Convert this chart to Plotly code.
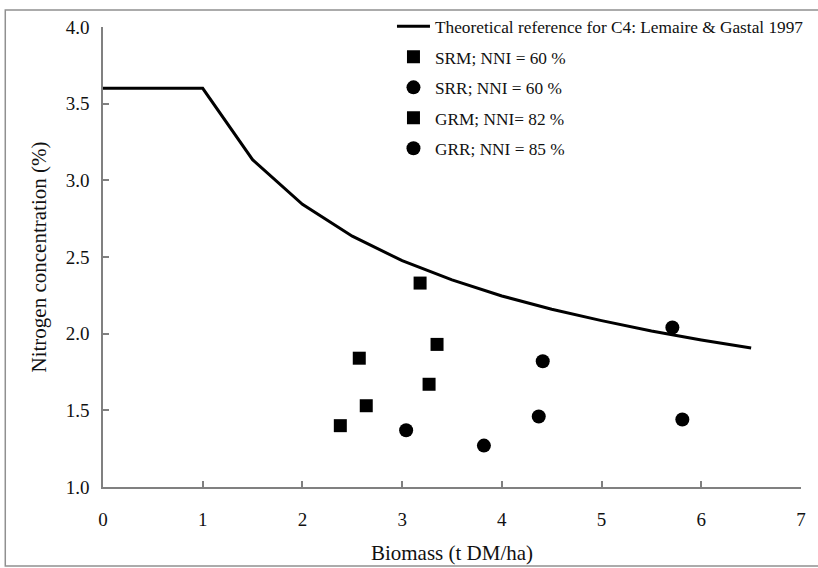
import plotly.graph_objects as go

# Reference curve
ref_x = [0, 1, 1.5, 2, 2.5, 3, 3.5, 4, 4.5, 5, 5.5, 6, 6.5]
ref_y = [3.6, 3.6, 3.135, 2.844, 2.636, 2.476, 2.351, 2.246, 2.159, 2.085, 2.018, 1.959, 1.906]

srm_x = [2.38, 2.64, 3.27]
srm_y = [1.40, 1.53, 1.67]
srr_x = [3.04, 3.82, 4.37]
srr_y = [1.37, 1.27, 1.46]
grm_x = [2.57, 3.18, 3.35]
grm_y = [1.84, 2.33, 1.93]
grr_x = [4.41, 5.71, 5.81]
grr_y = [1.82, 2.04, 1.44]

x_ticks = [0, 1, 2, 3, 4, 5, 6, 7]
y_ticks = [1.0, 1.5, 2.0, 2.5, 3.0, 3.5, 4.0]

FONT = "Liberation Serif, Times New Roman, serif"

fig = go.Figure()
fig.add_trace(go.Scatter(x=ref_x, y=ref_y, mode="lines", line=dict(color="black", width=3),
                         name="Theoretical reference for C4: Lemaire & Gastal 1997", legendgroup="a"))
msize = 13
fig.add_trace(go.Scatter(x=srm_x, y=srm_y, mode="markers", marker=dict(symbol="square", size=msize, color="black"),
                         name="SRM; NNI = 60 %", legendgroup="b"))
fig.add_trace(go.Scatter(x=srr_x, y=srr_y, mode="markers", marker=dict(symbol="circle", size=msize + 1, color="black"),
                         name="SRR; NNI = 60 %", legendgroup="c"))
fig.add_trace(go.Scatter(x=grm_x, y=grm_y, mode="markers", marker=dict(symbol="square", size=msize, color="black"),
                         name="GRM; NNI= 82 %", legendgroup="d"))
fig.add_trace(go.Scatter(x=grr_x, y=grr_y, mode="markers", marker=dict(symbol="circle", size=msize + 1, color="black"),
                         name="GRR; NNI = 85 %", legendgroup="e"))

axis_common = dict(showgrid=False, zeroline=False, showline=True, linecolor="#808080", linewidth=1.5,
                   ticks="inside", ticklen=6, tickcolor="#808080", tickwidth=1.5,
                   tickfont=dict(family=FONT, size=19, color="#111111"),
                   title_font=dict(family=FONT, size=21, color="#111111"))

fig.update_xaxes(range=[0, 7], tickvals=x_ticks, ticktext=[str(v) for v in x_ticks],
                 title_text="Biomass (t DM/ha)", title_standoff=17, ticklabelstandoff=14, **axis_common)
fig.update_yaxes(range=[1.0, 4.0], tickvals=y_ticks, ticktext=[f"{v:.1f}" for v in y_ticks],
                 title_text="Nitrogen concentration (%)", title_standoff=13, ticklabelstandoff=8, **axis_common)

fig.add_shape(type="rect", xref="paper", yref="paper", x0=-0.140, x1=1.05, y0=-0.172, y1=1.037,
              line=dict(color="#909090", width=1.5), fillcolor="rgba(0,0,0,0)", layer="below")

fig.update_layout(
    width=818, height=568,
    margin=dict(l=103, r=17, t=27, b=81, autoexpand=False),
    plot_bgcolor="white", paper_bgcolor="white",
    showlegend=True,
    legend=dict(x=0.414, y=1.04, xanchor="left", yanchor="top", bgcolor="rgba(0,0,0,0)",
                font=dict(family=FONT, size=17.3, color="#111111"), traceorder="grouped",
                tracegroupgap=5, itemwidth=33),
)

fig.write_html("out.html", config={"displayModeBar": False},
               post_script="document.body.style.margin='0';")
